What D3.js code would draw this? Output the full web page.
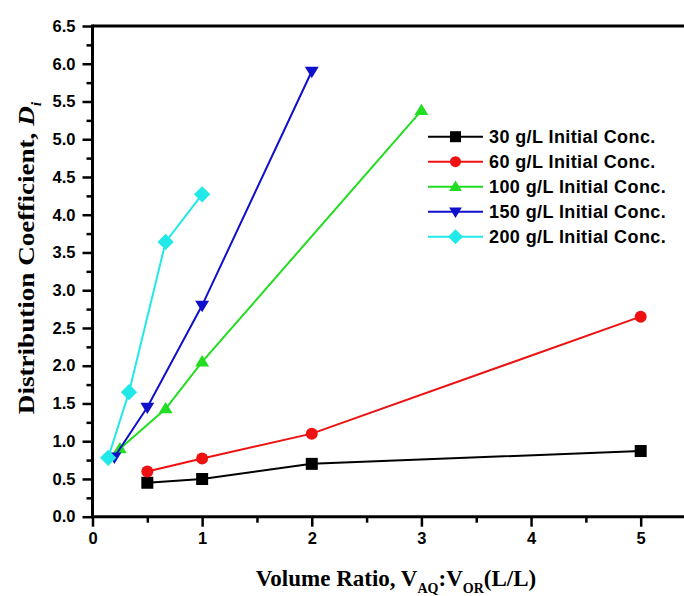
<!DOCTYPE html>
<html><head><meta charset="utf-8">
<script src="https://cdn.jsdelivr.net/npm/d3@7"></script>
<style>body{margin:0;background:#fff}svg{display:block}</style>
</head><body><svg id="c" width="684" height="596"></svg>
<script>
const seriesNames = ["30 g/L Initial Conc.","60 g/L Initial Conc.","100 g/L Initial Conc.","150 g/L Initial Conc.","200 g/L Initial Conc."];
const x30 = [0.5, 1, 2, 5];           const y30 = [0.45, 0.50, 0.70, 0.87];
const x60 = [0.5, 1, 2, 5];           const y60 = [0.60, 0.77, 1.10, 2.65];
const x100 = [0.25, 0.667, 1, 3];     const y100 = [0.90, 1.43, 2.05, 5.38];
const x150 = [0.2, 0.5, 1, 2];        const y150 = [0.79, 1.45, 2.80, 5.90];
const x200 = [0.143, 0.333, 0.667, 1];const y200 = [0.78, 1.65, 3.64, 4.27];
const xTicks = [0,1,2,3,4,5];
const yTicks = [0,0.5,1,1.5,2,2.5,3,3.5,4,4.5,5,5.5,6,6.5];

const colors = ["#000000","#ee1111","#22dd22","#1010cc","#22e8e8"];
const shapes = ["square","circle","up","down","diamond"];
const series = [[x30,y30],[x60,y60],[x100,y100],[x150,y150],[x200,y200]].map((d,i)=>({
  name: seriesNames[i], color: colors[i], shape: shapes[i],
  pts: d[0].map((x,j)=>({x, y:d[1][j]}))
}));

const svg = d3.select("#c");
const L = 92.5, R = 684, T = 26, B = 516.7;
const x = d3.scaleLinear().domain([0, 5.395]).range([L, R]);
const y = d3.scaleLinear().domain([0, 6.5]).range([B, T]);

function sym(shape, size){
  const s = size;
  if (shape==="square") return `M${-s/2},${-s/2}h${s}v${s}h${-s}Z`;
  if (shape==="circle") { const r=s/2; return `M${r},0A${r},${r} 0 1,1 ${-r},0A${r},${r} 0 1,1 ${r},0Z`; }
  if (shape==="up") { const h=s*0.95; return `M0,${-h*0.6}L${s*0.58},${h*0.4}L${-s*0.58},${h*0.4}Z`; }
  if (shape==="down") { const h=s*0.95; return `M0,${h*0.6}L${s*0.58},${-h*0.4}L${-s*0.58},${-h*0.4}Z`; }
  if (shape==="diamond") { const r=s*0.68; return `M0,${-r}L${r},0L0,${r}L${-r},0Z`; }
}

svg.append("defs").append("clipPath").attr("id","clip").append("rect")
  .attr("x", L).attr("y", T-10).attr("width", R-L).attr("height", B-T+20);

const g = svg.append("g").attr("clip-path","url(#clip)");
const line = d3.line().x(d=>x(d.x)).y(d=>y(d.y));
series.forEach(s=>{
  g.append("path").datum(s.pts).attr("d", line).attr("fill","none")
    .attr("stroke", s.color).attr("stroke-width", 2);
  g.selectAll(null).data(s.pts).enter().append("path")
    .attr("transform", d=>`translate(${x(d.x)},${y(d.y)})`)
    .attr("d", sym(s.shape, 12)).attr("fill", s.color);
});

// axes
const fontTick = "bold 16.5px 'Liberation Sans', Arial, sans-serif";
const yAxis = d3.axisLeft(y).tickValues(yTicks).tickFormat(d3.format(".1f")).tickSize(10).tickPadding(7);
const yMinor = d3.axisLeft(y).tickValues(d3.range(0.25, 6.5, 0.5)).tickFormat("").tickSize(6);
const xAxis = d3.axisBottom(x).tickValues(xTicks).tickFormat(d3.format("d")).tickSize(10).tickPadding(6);
const xMinor = d3.axisBottom(x).tickValues([0.5,1.5,2.5,3.5,4.5]).tickFormat("").tickSize(6);

function styleAxis(sel){
  sel.select(".domain").remove();
  sel.selectAll("line").attr("stroke","#000").attr("stroke-width",2.5);
  sel.selectAll("text").style("font", fontTick).attr("fill","#000");
}
svg.append("g").attr("transform",`translate(${L},0)`).call(yAxis).call(styleAxis);
svg.append("g").attr("transform",`translate(${L},0)`).call(yMinor).call(styleAxis);
svg.append("g").attr("transform",`translate(0,${B})`).call(xAxis).call(styleAxis);
svg.append("g").attr("transform",`translate(0,${B})`).call(xMinor).call(styleAxis);

// frame lines
svg.append("line").attr("x1",L).attr("x2",L).attr("y1",T-1.5).attr("y2",B+1.5).attr("stroke","#000").attr("stroke-width",3);
svg.append("line").attr("x1",L).attr("x2",R).attr("y1",B).attr("y2",B).attr("stroke","#000").attr("stroke-width",3);
svg.append("line").attr("x1",L).attr("x2",R).attr("y1",T).attr("y2",T).attr("stroke","#000").attr("stroke-width",3);

// legend
const lg = svg.append("g");
series.forEach((s,i)=>{
  const yy = 136.7 + i*25;
  lg.append("line").attr("x1",428).attr("x2",483).attr("y1",yy).attr("y2",yy).attr("stroke",s.color).attr("stroke-width",2);
  lg.append("path").attr("transform",`translate(455.5,${yy})`).attr("d", sym(s.shape, 11)).attr("fill", s.color);
  lg.append("text").attr("x",489).attr("y",yy).attr("dy","0.36em")
    .style("font","bold 18px 'Liberation Sans', Arial, sans-serif").style("letter-spacing","0.4px")
    .attr("fill","#000").text(s.name);
});

// axis titles
const tf = "bold 23px 'Liberation Serif', 'Times New Roman', serif";
const xt = svg.append("text").attr("x",396).attr("y",586).attr("text-anchor","middle").style("font",tf).attr("fill","#000");
xt.append("tspan").text("Volume Ratio, V");
xt.append("tspan").attr("dy",7).style("font-size","14px").text("AQ");
xt.append("tspan").attr("dy",-7).text(":V");
xt.append("tspan").attr("dy",7).style("font-size","14px").text("OR");
xt.append("tspan").attr("dy",-7).text("(L/L)");

const yt = svg.append("text").attr("transform","translate(34,258) rotate(-90) scale(1.13,1)").attr("text-anchor","middle").style("font","bold 24px 'Liberation Serif', 'Times New Roman', serif").attr("fill","#000");
yt.append("tspan").text("Distribution Coefficient, ");
yt.append("tspan").style("font-style","italic").text("D");
yt.append("tspan").attr("dy",7).style("font-size","14px").style("font-style","italic").text("i");
</script></body></html>
